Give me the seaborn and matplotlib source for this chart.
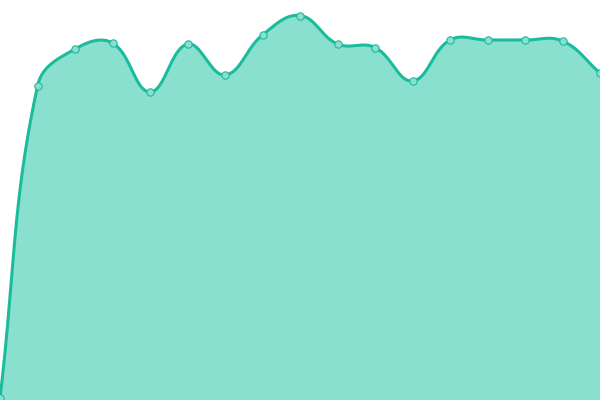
import matplotlib
matplotlib.use("Agg")
import matplotlib.pyplot as plt
import numpy as np
import pandas as pd
import seaborn as sns

# data
steps = list(range(17))
values = [0, 312, 349, 355, 306, 354, 323, 363, 382.5, 354, 350.5, 317, 358, 358, 358, 357, 325]

line_color = "#1abc9c"
fill_color = "#8ae0cf"


def smooth_curve(x, y, xscale=37.5, tension=0.4, n=40):
    # spline through the points, control points split by segment length
    pts = np.column_stack([np.asarray(x, float) * xscale, np.asarray(y, float)])
    k = len(pts)
    cp_in = np.zeros((k, 2))
    cp_out = np.zeros((k, 2))
    for i in range(k):
        p = pts[i]
        prev = pts[i - 1] if i > 0 else p
        nxt = pts[i + 1] if i < k - 1 else p
        d01 = np.hypot(*(p - prev))
        d12 = np.hypot(*(nxt - p))
        s01 = d01 / (d01 + d12)
        s12 = d12 / (d01 + d12)
        cp_in[i] = p - tension * s01 * (nxt - prev)
        cp_out[i] = p + tension * s12 * (nxt - prev)
    xs, ys = [], []
    t = np.linspace(0, 1, n, endpoint=False)[:, None]
    for i in range(k - 1):
        p0, p3 = pts[i], pts[i + 1]
        c1, c2 = cp_out[i], cp_in[i + 1]
        seg = (1 - t)**3 * p0 + 3 * (1 - t)**2 * t * c1 + 3 * (1 - t) * t**2 * c2 + t**3 * p3
        xs.append(seg[:, 0])
        ys.append(seg[:, 1])
    xs.append([pts[-1, 0]])
    ys.append([pts[-1, 1]])
    return np.concatenate(xs) / xscale, np.concatenate(ys)


df = pd.DataFrame({"step": steps, "value": values})
cx, cy = smooth_curve(df["step"], df["value"])
curve = pd.DataFrame({"step": cx, "value": cy})

fig = plt.figure(figsize=(6, 4), dpi=100)
ax = fig.add_axes([0, 0, 1, 1])

ax.fill_between(curve["step"], curve["value"], -10, color=fill_color, linewidth=0)
sns.lineplot(data=curve, x="step", y="value", ax=ax, color=line_color, linewidth=2.2, sort=False)
sns.scatterplot(data=df, x="step", y="value", ax=ax, s=28, color=fill_color,
                edgecolor=line_color, linewidth=0.8, zorder=5)

ax.set_xlim(0, 16)
ax.set_ylim(-2, 398)
ax.axis("off")

fig.savefig("out.png", dpi=100)
